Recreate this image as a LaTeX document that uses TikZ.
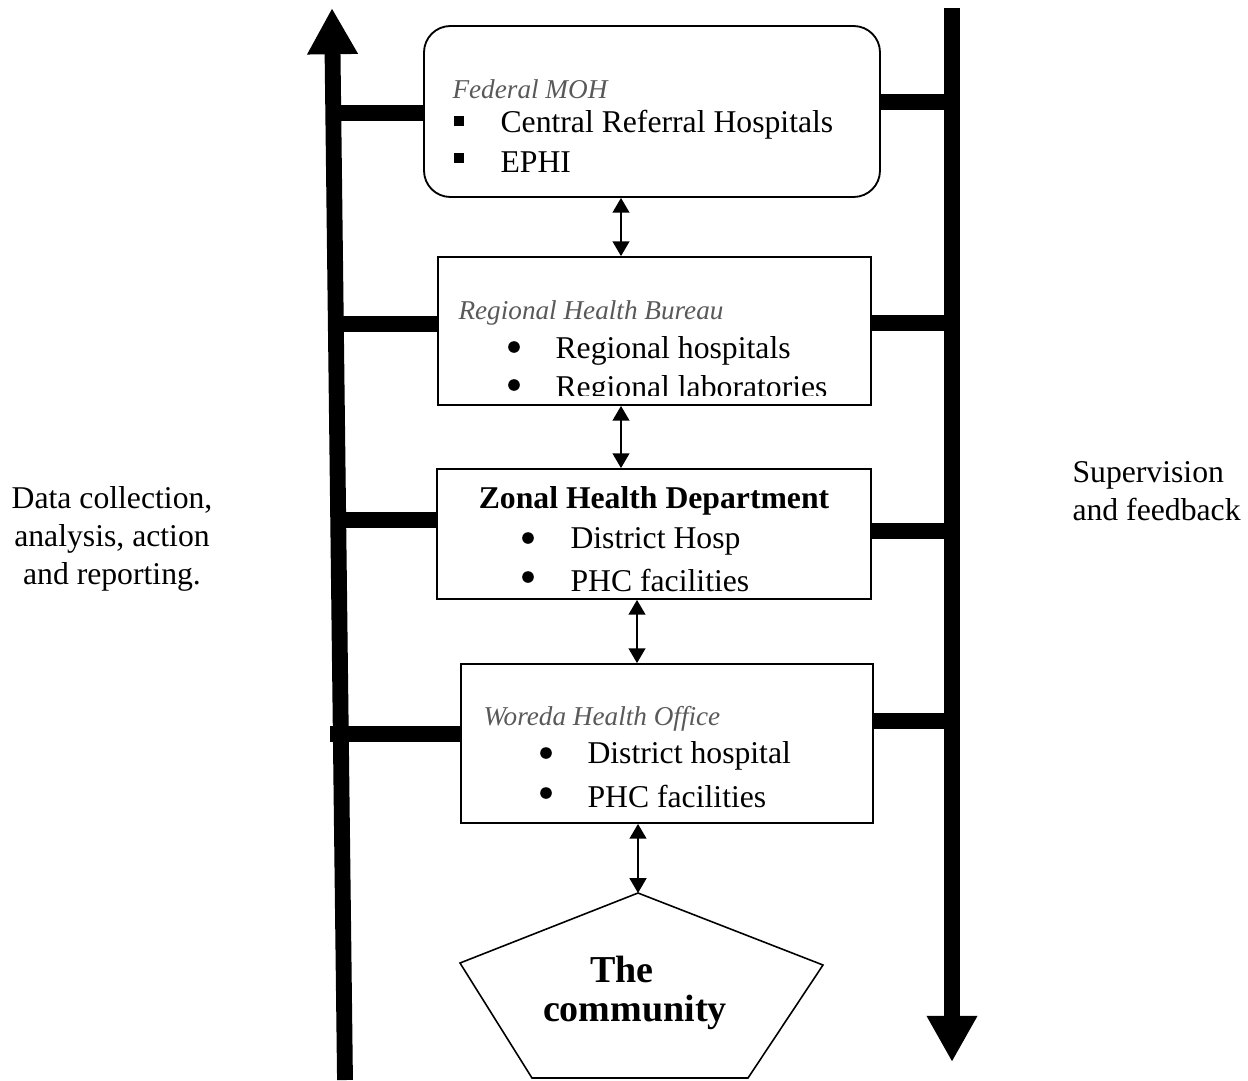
\documentclass[tikz,border=0pt,12pt]{standalone}
\usepackage{fontspec}
\setmainfont{Liberation Serif}
\usepackage{xcolor}
\usepackage{tikz}
\usetikzlibrary{arrows.meta,fit}
\definecolor{headgray}{RGB}{89,89,89}

\begin{document}
\begin{tikzpicture}
          [x=0.0133cm,y=-0.0133cm,
          unit/.style={draw=black,line width=0.7pt,inner sep=0pt},
          head/.style={anchor=west,inner sep=0pt,text=headgray,font=\fontsize{10.3}{12}\selectfont\itshape},
          item/.style={anchor=west,inner sep=0pt},
          sqbul/.style={fill=black,minimum size=3.8pt,inner sep=0pt},
          bul/.style={circle,fill=black,minimum size=4.4pt,inner sep=0pt},
          link/.style={{Triangle[width=6.4pt,length=5.6pt]}-{Triangle[width=6.4pt,length=5.6pt]},line width=0.6pt},
          spine/.style={line width=6pt,-{Triangle[width=18pt,length=17.5pt]}},
          bar/.style={line width=6pt}]

            \useasboundingbox (0,0) rectangle (1248,1080);

            \node (fmoh) [unit,rounded corners=10pt,fit={(424,26) (880,197)}] {};
            \node (rhb) [unit,fit={(438,257) (871,405)}] {};
            \node (zhd) [unit,fit={(437,469) (871,599)}] {};
            \node (who) [unit,fit={(461,664) (873,823)}] {};

            \node (fmohh) [head] at (452,89) {Federal MOH};
            \node (sq1) [sqbul] at (459,121) {};
            \node (sq2) [sqbul] at (459,158) {};
            \node (crh) [item] at (500,125) {Central Referral Hospitals};
            \node (ephi) [item] at (500,162) {EPHI};

            \node (rhbh) [head] at (458,313) {Regional Health Bureau};
            \begin{scope}
              \clip (438,257) rectangle (871,395);
              \node (b21) [bul] at (514,347) {};
              \node (b22) [bul] at (514,385) {};
              \node (rhosp) [item] at (555,351) {Regional hospitals};
              \node (rlab) [item] at (555,390) {Regional laboratories};
            \end{scope}

            \node (zhdh) [font=\bfseries] at (654,501) {Zonal Health Department};
            \node (b31) [bul] at (528,538) {};
            \node (b32) [bul] at (528,577) {};
            \node (dhosp) [item] at (570,541) {District Hosp};
            \node (phc1) [item] at (570,580) {PHC facilities};

            \node (whoh) [head] at (483,719) {Woreda Health Office};
            \node (b41) [bul] at (546,753) {};
            \node (b42) [bul] at (546,793) {};
            \node (dhospital) [item] at (587,756) {District hospital};
            \node (phc2) [item] at (587,796) {PHC facilities};

            \draw [line width=0.6pt] (638,893) coordinate (ctop) -- (823,965) -- (748,1078)
              -- (532,1078) -- (460,963) -- cycle;
            \node (the) [font=\large\bfseries] at (622,969) {The};
            \node (comm) [font=\large\bfseries] at (635,1012) {community};

            \node (datatxt) [align=center] at (112,539) {Data collection,\\analysis, action\\and reporting.};
            \node (suptxt) [align=left,anchor=west,inner sep=0pt] at (1072,491) {Supervision\\and feedback};

            \coordinate (lfoot) at (345,1080);
            \coordinate (ltip) at (332,8);
            \coordinate (rtop) at (952,8);
            \coordinate (rtip) at (952,1062);
            \coordinate (a1) at (621,0);
            \coordinate (a2) at (637,0);

          \draw [spine] (lfoot) -- (ltip);
            \draw [spine] (rtop) -- (rtip);

            \draw [bar] (333,113) -- (fmoh.west |- 0,113);
            \draw [bar] (336,324) -- (rhb.west |- 0,324);
            \draw [bar] (338,520) -- (zhd.west |- 0,520);
            \draw [bar] (330,734) -- (who.west |- 0,734);
            \draw [bar] (fmoh.east |- 0,102) -- (rtop |- 0,102);
            \draw [bar] (rhb.east |- 0,323) -- (rtop |- 0,323);
            \draw [bar] (zhd.east |- 0,531) -- (rtop |- 0,531);
            \draw [bar] (who.east |- 0,721) -- (rtop |- 0,721);

            \draw [link] (fmoh.south -| a1) -- (rhb.north -| a1);
            \draw [link] (rhb.south -| a1) -- (zhd.north -| a1);
            \draw [link] (zhd.south -| a2) -- (who.north -| a2);
            \draw [link] (who.south -| ctop) -- (ctop);

        \end{tikzpicture}
\end{document}
